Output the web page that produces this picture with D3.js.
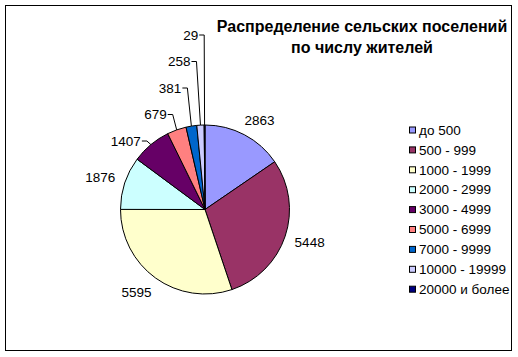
<!DOCTYPE html>
<html><head><meta charset="utf-8">
<script src="https://cdn.jsdelivr.net/npm/d3@7/dist/d3.min.js"></script>
<style>
html,body{margin:0;padding:0;background:#fff;}
svg{display:block;font-family:Arial,"Liberation Sans",sans-serif;}
</style></head>
<body>
<svg id="chart" width="518" height="357"></svg>
<script>
const categories = ["до 500","500 - 999","1000 - 1999","2000 - 2999","3000 - 4999","5000 - 6999","7000 - 9999","10000 - 19999","20000 и более"];
const values = [2863,5448,5595,1876,1407,679,381,258,29];
const colors = ["#9999FF","#993366","#FFFFCC","#CCFFFF","#660066","#FF8080","#0066CC","#CCCCFF","#000080"];
const titleLines = ["Распределение сельских поселений","по числу жителей"];

const svg = d3.select("#chart");
svg.append("rect").attr("x",5.5).attr("y",5.5).attr("width",506).attr("height",345)
  .attr("fill","#fff").attr("stroke","#000").attr("stroke-width",1);

const cx = 205, cy = 209.5, r = 84.5;
const pie = d3.pie().sort(null).value(d=>d)(values);
const arc = d3.arc().innerRadius(0).outerRadius(r);
const g = svg.append("g").attr("transform",`translate(${cx},${cy})`);
g.selectAll("path").data(pie).join("path")
  .attr("d",arc).attr("fill",(d,i)=>colors[i]).attr("stroke","#000").attr("stroke-width",1);

// labels
const fs = 13.5;
const clamp = v=>Math.max(-1,Math.min(1,v));
pie.forEach((d,i)=>{
  const a = (d.startAngle+d.endAngle)/2;
  const sa = Math.sin(a), ca = Math.cos(a);
  if (i < 4) {
    const px = cx + (r+10)*sa, py = cy - (r+9)*ca;
    const t = svg.append("text").attr("font-size",fs).attr("fill","#000").text(values[i]);
    const w = t.node().getComputedTextLength(), h = 14;
    const bx = px + w/2*clamp(sa*1.5), by = py - h/2*clamp(ca*1.5);
    t.attr("x",bx).attr("y",by).attr("text-anchor","middle").attr("dy","0.35em");
  } else {
    const k = i-4;
    const mx = cx + r*sa, my = cy - r*ca;
    const ly = cy - r + 16 - k*26.5;
    const ex = mx - 4*Math.min(1, Math.abs(sa)*20);
    svg.append("path").attr("d",`M${ex-5},${ly}H${ex}L${mx},${my}`)
      .attr("fill","none").attr("stroke","#000").attr("stroke-width",1);
    svg.append("text").attr("font-size",fs).attr("fill","#000")
      .attr("x",ex-6).attr("y",ly).attr("dy","0.35em").attr("text-anchor","end").text(values[i]);
  }
});

// title
svg.append("g").selectAll("text").data(titleLines).join("text")
  .attr("x",362).attr("y",(d,i)=>32+i*21).attr("text-anchor","middle")
  .attr("font-size",16).attr("font-weight","bold").attr("fill","#000").text(d=>d);

// legend
const ly0 = 130, lstep = 19.9;
const leg = svg.append("g");
categories.forEach((c,i)=>{
  const y = ly0 + i*lstep;
  leg.append("rect").attr("x",409.5).attr("y",y-3).attr("width",6).attr("height",6)
    .attr("fill",colors[i]).attr("stroke","#000").attr("stroke-width",1);
  leg.append("text").attr("x",419).attr("y",y).attr("dy","0.35em")
    .attr("font-size",fs).attr("fill","#000").text(c);
});
</script>
</body></html>
